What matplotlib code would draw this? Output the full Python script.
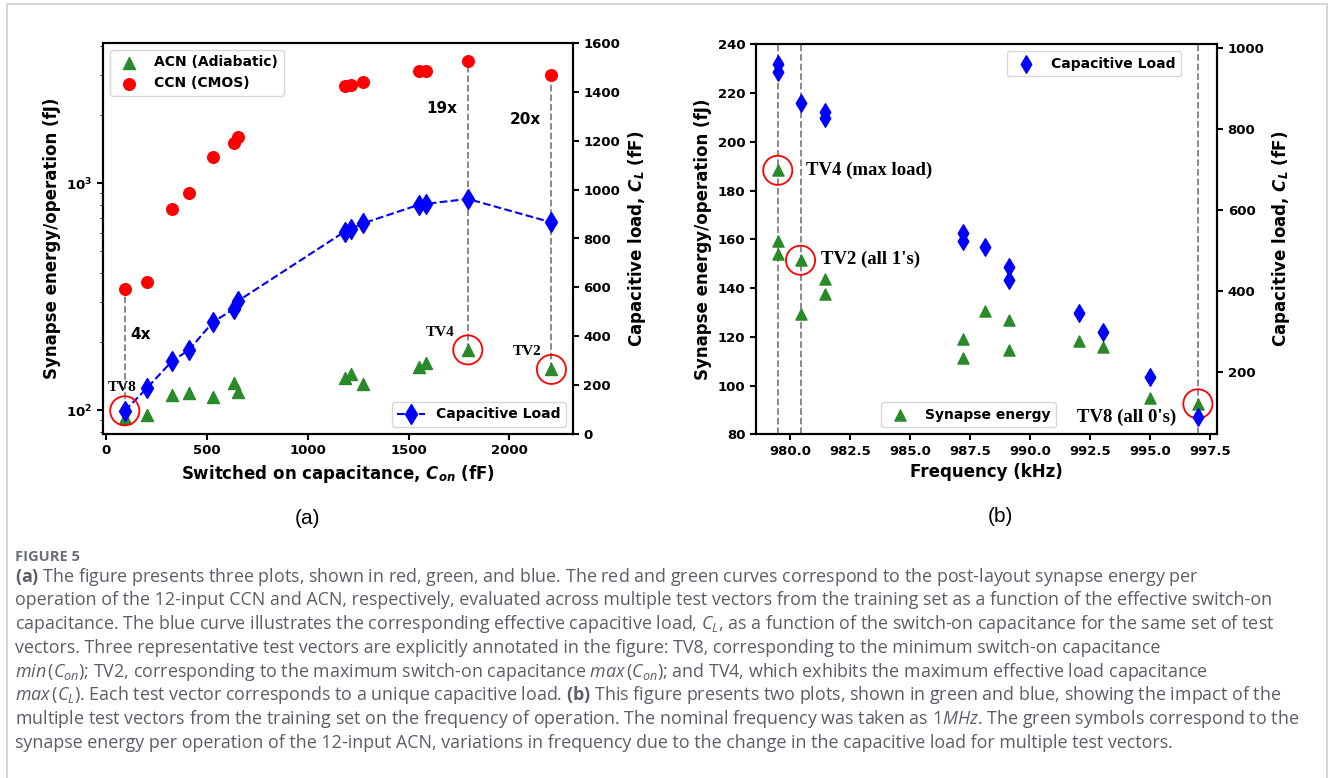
import matplotlib
matplotlib.use('Agg')
import matplotlib.pyplot as plt
from matplotlib.lines import Line2D
from matplotlib.ticker import FormatStrFormatter, MultipleLocator

plt.rcParams['font.weight'] = 'bold'
plt.rcParams['axes.labelweight'] = 'bold'
plt.rcParams['axes.linewidth'] = 1.5
plt.rcParams['xtick.major.width'] = 1.5
plt.rcParams['ytick.major.width'] = 1.5
plt.rcParams['xtick.major.size'] = 4
plt.rcParams['ytick.major.size'] = 4
plt.rcParams['mathtext.fontset'] = 'custom'
plt.rcParams['mathtext.rm'] = 'Open Sans:weight=regular'
plt.rcParams['mathtext.it'] = 'Open Sans:style=italic:weight=regular'
plt.rcParams['mathtext.bf'] = 'Open Sans:weight=bold'
plt.rcParams['mathtext.bfit'] = 'DejaVu Sans:style=italic:weight=bold'

# (a) one entry per test vector, sorted by switched-on capacitance (fF)
c_on = [92, 201, 325, 412, 528, 632, 655, 1183, 1216, 1274, 1551, 1588, 1794, 2209]
e_ccn = [342, 365, 768, 903, 1302, 1496, 1600, 2673, 2690, 2792, 3104, 3130, 3435, 2990]
e_acn = [92, 95, 116, 119, 114, 131, 120, 138, 144, 130, 155, 161, 184, 151]
load_a = [95, 187, 297, 345, 457, 511, 545, 828, 839, 862, 938, 942, 962, 866]
tv_a = [0, 12, 13]            # TV8, TV4, TV2
ratio_labels = ['4x', '19x', '20x']

# (b) frequency of operation (kHz)
freq_e = [979.47, 979.47, 979.47, 980.42, 980.42, 981.42, 981.42, 987.2, 987.2,
          988.1, 989.1, 989.1, 992.04, 993.05, 995.0, 996.99]
energy_b = [188.3, 159.2, 154.1, 151.4, 129.4, 143.7, 137.7, 119.2, 111.2,
            130.4, 126.7, 114.4, 118.3, 116.0, 95.0, 92.5]
freq_l = [979.47, 979.47, 980.42, 981.42, 981.42, 987.2, 987.2, 988.1, 989.1,
          989.1, 992.04, 993.05, 995.0, 996.99]
load_b = [960, 940, 862, 841, 825, 543, 523, 507, 459, 426, 344, 299, 188, 89]
tv_b = [0, 3, 15]             # TV4, TV2, TV8
tv_b_labels = ['TV4 (max load)', "TV2 (all 1's)", "TV8 (all 0's)"]

caption = [
    r"$\mathbf{(a)}$ The figure presents three plots, shown in red, green, and blue. The red and green curves correspond to the post-layout synapse energy per",
    "operation of the 12-input CCN and ACN, respectively, evaluated across multiple test vectors from the training set as a function of the effective switch-on",
    r"capacitance. The blue curve illustrates the corresponding effective capacitive load, $C_L$, as a function of the switch-on capacitance for the same set of test",
    "vectors. Three representative test vectors are explicitly annotated in the figure: TV8, corresponding to the minimum switch-on capacitance",
    r"$min\,(C_{on})$; TV2, corresponding to the maximum switch-on capacitance $max\,(C_{on})$; and TV4, which exhibits the maximum effective load capacitance",
    r"$max\,(C_L)$. Each test vector corresponds to a unique capacitive load. $\mathbf{(b)}$ This figure presents two plots, shown in green and blue, showing the impact of the",
    r"multiple test vectors from the training set on the frequency of operation. The nominal frequency was taken as $1MHz$. The green symbols correspond to the",
    "synapse energy per operation of the 12-input ACN, variations in frequency due to the change in the capacitive load for multiple test vectors.",
]

W, H = 1332, 778
fig = plt.figure(figsize=(W / 100, H / 100), dpi=100)
fig.patch.set_facecolor('white')

GREEN = '#2a8a2a'
serif = dict(family='Liberation Serif', fontweight='bold')
leg_prop = {'weight': 'bold', 'size': 10}
ring = dict(s=440, facecolors='none', edgecolors='red', linewidths=1.3, zorder=5)

# ---------------- panel (a) ----------------
ax = fig.add_axes([103 / W, 1 - 434 / H, 470 / W, 391 / H])
ax.set_yscale('log')
ax.vlines([c_on[i] for i in tv_a], [e_acn[i] for i in tv_a], [e_ccn[i] for i in tv_a],
          colors='gray', linestyles='--', lw=1.3, zorder=1)
ax.scatter(c_on, e_acn, marker='^', s=75, color=GREEN, label='ACN (Adiabatic)', zorder=3)
ax.scatter(c_on, e_ccn, marker='o', s=70, color='red', label='CCN (CMOS)', zorder=3)
ax.scatter([c_on[i] for i in tv_a[1:]], [e_acn[i] for i in tv_a[1:]], **ring)
ax.set_xlim(-16, 2316)
ax.set_ylim(78.4, 4140)
ax.set_xlabel(r'Switched on capacitance, $\mathbfit{C}_{\mathbfit{on}}$ (fF)', fontsize=12)
ax.set_ylabel('Synapse energy/operation (fJ)', fontsize=12)
ax.tick_params(labelsize=9.5)
ax.legend(loc='upper left', prop=leg_prop)

for i, lab, off, ha in zip(tv_a, ratio_labels, [(4.3, -33), (-7.6, -34), (-7.4, -32)],
                           ['left', 'right', 'right']):
    ax.annotate(lab, xy=(c_on[i], e_ccn[i]), xytext=off, textcoords='offset points',
                ha=ha, va='center', fontsize=11, fontweight='bold')
ax.annotate('TV4', xy=(c_on[12], e_acn[12]), xytext=(-20, 12.2), textcoords='offset points',
            ha='center', va='center', fontsize=11, **serif)
ax.annotate('TV2', xy=(c_on[13], e_acn[13]), xytext=(-17.5, 13.2), textcoords='offset points',
            ha='center', va='center', fontsize=11, **serif)

ax2 = ax.twinx()
ax2.plot(c_on, load_a, '--', color='blue', marker='d', ms=10, lw=1.5, label='Capacitive Load')
ax2.scatter([c_on[0]], [load_a[0]], **ring)
ax2.annotate('TV8', xy=(c_on[0], load_a[0]), xytext=(-2, 17), textcoords='offset points',
             ha='center', va='center', fontsize=11, **serif)
ax2.set_ylim(0, 1600)
ax2.yaxis.set_major_locator(MultipleLocator(200))
ax2.set_ylabel(r'Capacitive load, $\mathbfit{C}_{\mathbfit{L}}$ (fF)', fontsize=12)
ax2.tick_params(labelsize=9.5)
ax2.legend(loc='lower right', prop=leg_prop)

# ---------------- panel (b) ----------------
bx = fig.add_axes([755.7 / W, 1 - 434.3 / H, 461.6 / W, 390 / H])
for i in tv_b:
    bx.axvline(freq_e[i], color='gray', ls='--', lw=1.3, zorder=1)
bx.scatter(freq_e, energy_b, marker='^', s=64, color=GREEN, label='Synapse energy', zorder=3)
bx.scatter([freq_e[i] for i in tv_b], [energy_b[i] for i in tv_b], **ring)
bx.set_xlim(978.55, 997.8)
bx.set_ylim(80, 240)
bx.xaxis.set_major_locator(MultipleLocator(2.5))
bx.xaxis.set_major_formatter(FormatStrFormatter('%.1f'))
bx.set_xlabel('Frequency (kHz)', fontsize=12)
bx.set_ylabel('Synapse energy/operation (fJ)', fontsize=12)
bx.tick_params(labelsize=9.5)
bx.legend(loc='lower center', bbox_to_anchor=(0.461, 0.0), prop=leg_prop)

for i, lab, off, ha in zip(tv_b, tv_b_labels, [(20, 0), (14.4, 1), (-15.8, -10)],
                           ['left', 'left', 'right']):
    bx.annotate(lab, xy=(freq_e[i], energy_b[i]), xytext=off, textcoords='offset points',
                ha=ha, va='center', fontsize=13.5, **serif)

bx2 = bx.twinx()
bx2.scatter(freq_l, load_b, marker='d', s=80, color='blue', label='Capacitive Load', zorder=3)
bx2.set_ylim(46, 1008)
bx2.yaxis.set_major_locator(MultipleLocator(200))
bx2.set_ylabel(r'Capacitive load, $\mathbfit{C}_{\mathbfit{L}}$ (fF)', fontsize=12)
bx2.tick_params(labelsize=9.5)
bx2.legend(loc='upper right', bbox_to_anchor=(0.9365, 1.0), prop=leg_prop)

# ---------------- panel letters, caption, frame ----------------
fig.text(307 / W, 1 - 518 / H, '(a)', family='Liberation Sans', fontweight='normal',
         fontsize=15, ha='center', va='center')
fig.text(1000 / W, 1 - 516 / H, '(b)', family='Liberation Sans', fontweight='normal',
         fontsize=15, ha='center', va='center')

cap_color = '#5a5e69'
fig.text(15 / W, 1 - 561 / H, 'FIGURE 5', family='Open Sans', fontweight='bold', fontsize=10.5,
         color='#6b6f7a', ha='left', va='baseline')
for k, line in enumerate(caption):
    fig.text(15 / W, 1 - (581.5 + 23.8 * k) / H, line, family='Open Sans', fontweight='normal',
             fontsize=12.85, color=cap_color, ha='left', va='baseline')

fig.add_artist(Line2D([6.5 / W, 6.5 / W, 1327 / W, 1327 / W], [-0.01, 1 - 4.3 / H, 1 - 4.3 / H, -0.01],
                      transform=fig.transFigure, color='#cccccc', lw=1.1))

fig.savefig('out.png', dpi=100, facecolor='white')
